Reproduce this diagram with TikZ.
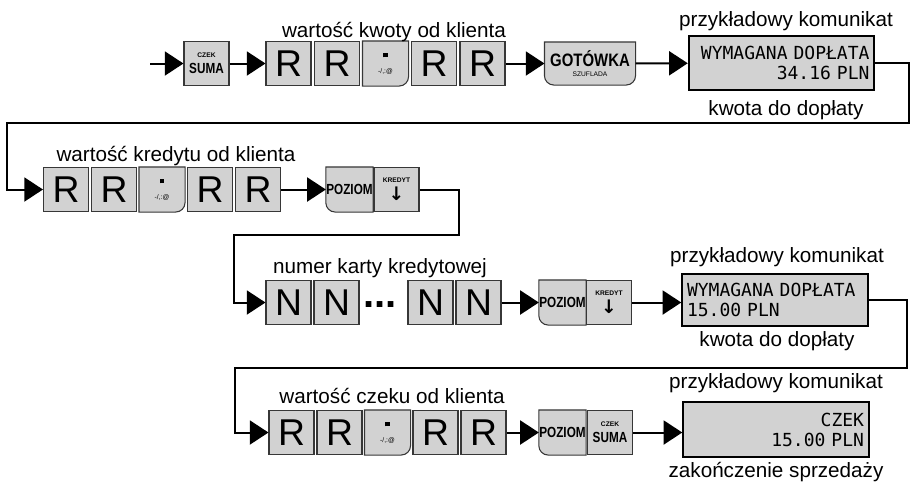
\documentclass[tikz,border=0pt]{standalone}
\usepackage{fontspec}
\setmainfont{Liberation Sans}
\newfontfamily\lcdfont[WordSpace={1,0,0}]{DejaVu Sans Mono}
\newfontfamily\symfont{DejaVu Sans}
\usepackage{graphicx}
\usetikzlibrary{arrows.meta,backgrounds}
\definecolor{keygray}{RGB}{210,210,210}
\definecolor{keyedge}{RGB}{55,55,55}
\newcommand\tinylab[1]{{\fontsize{5}{6}\selectfont#1}}
\newcommand\keylab[1]{\scalebox{.8}[1]{\fontsize{11}{12}\selectfont\bfseries#1}}
\newcommand\dotkey{\rule{3.5pt}{3.5pt}\\[5pt]\tinylab{-/,:@}}
\tikzset{
  btn/.style={draw=keyedge,fill=keygray,line width=.8pt,minimum width=33.75pt,minimum height=33pt,inner sep=0pt,font=\fontsize{28}{30}\selectfont},
  btnbare/.style={btn,draw=none,fill=none},
  legend/.style={btn,align=center,font=\fontsize{6}{7}\selectfont},
  rim/.style={draw=keyedge,fill=keygray,line width=.8pt},
  lcd/.style={draw,fill=keygray,line width=1.6pt,text width=132pt,inner xsep=3.5pt,minimum height=40.5pt,font=\lcdfont\fontsize{13.5}{15}\selectfont},
  note/.style={anchor=base,inner sep=0pt,font=\fontsize{15.5}{18}\selectfont},
  wire/.style={line width=1.5pt},
  feed/.style={wire,-{Triangle[length=14pt,width=18pt]}}
}
\begin{document}
\begin{tikzpicture}[x=.75pt,y=-.75pt]
\useasboundingbox(0,0)rectangle(912,483);
% wiersz 1: gotowka
\coordinate(in)at(150,63.5);
\node[legend](s)at(206.5,63.5){\tinylab{\bfseries CZEK}\\[3pt]\keylab{SUMA}};
\node[btn](a1)at(288.5,63.5){R};\node[btn](a2)at(337,63.5){R};
\node[btnbare,align=center,font=\fontsize{6}{7}\selectfont](a3)at(385.5,63.5){\dotkey};
\node[btn](a4)at(434,63.5){R};\node[btn](a5)at(482.5,63.5){R};
\node[btnbare,align=center,minimum width=67.5pt,minimum height=31.5pt,font=\fontsize{6}{7}\selectfont](g)at(590,63.5){\scalebox{.83}[1]{\fontsize{13.5}{15}\selectfont\bfseries GOTÓWKA}\\\tinylab{SZUFLADA}};
\node[lcd,align=right](w1)at(781.5,63){WYMAGANA DOPŁATA\\34.16 PLN};
\node[note](l1)at(394,37){wartość kwoty od klienta};
\node[note](l2)at(786,26){przykładowy komunikat};
\node[note](l3)at(786,115){kwota do dopłaty};
% wiersz 2: kredyt
\node[btn](b1)at(66,189.5){R};\node[btn](b2)at(114,189.5){R};
\node[btnbare,align=center,font=\fontsize{6}{7}\selectfont](b3)at(162,189.5){\dotkey};
\node[btn](b4)at(210,189.5){R};\node[btn](b5)at(258,189.5){R};
\node[btnbare](p1)at(349.5,189.5){\keylab{POZIOM}};
\node[legend](k1)at(396.5,189.5){\tinylab{\bfseries KREDYT}\\[2pt]{\symfont\bfseries\fontsize{14}{14}\selectfont ↓}};
\node[note](l4)at(176,161){wartość kredytu od klienta};
% wiersz 3: karta
\node[btn](n1)at(288.5,302.5){N};\node[btn](n2)at(336.5,302.5){N};
\node[anchor=base,inner sep=0pt,font=\fontsize{30}{30}\selectfont\bfseries](el)at(380,307){...};
\node[btn](n3)at(430.5,302.5){N};\node[btn](n4)at(478.5,302.5){N};
\node[btnbare](p2)at(562.5,302.5){\keylab{POZIOM}};
\node[legend](k2)at(609,302.5){\tinylab{\bfseries KREDYT}\\[2pt]{\symfont\bfseries\fontsize{14}{14}\selectfont ↓}};
\node[lcd,align=left,minimum height=39pt](w2)at(775,300){WYMAGANA DOPŁATA\\15.00 PLN};
\node[note](l5)at(380,273){numer karty kredytowej};
\node[note](l6)at(777,262){przykładowy komunikat};
\node[note](l7)at(777,346){kwota do dopłaty};
% wiersz 4: czek
\node[btn](c1)at(291.5,432.5){R};\node[btn](c2)at(339.5,432.5){R};
\node[btnbare,align=center,font=\fontsize{6}{7}\selectfont](c3)at(387.5,432.5){\dotkey};
\node[btn](c4)at(435.5,432.5){R};\node[btn](c5)at(483.5,432.5){R};
\node[btnbare](p3)at(562.5,432.5){\keylab{POZIOM}};
\node[legend](s2)at(610,432.5){\tinylab{\bfseries CZEK}\\[3pt]\keylab{SUMA}};
\node[lcd,align=right,minimum height=41pt](w3)at(776,429.5){CZEK\\15.00 PLN};
\node[note](l8)at(392,403){wartość czeku od klienta};
\node[note](l9)at(776,388){przykładowy komunikat};
\node[note](l10)at(776,477){zakończenie sprzedaży};
% klawisze z zaokraglonym rogiem
\begin{scope}[on background layer]
\draw[rim](a3.north west)--(a3.north east)--([yshift=7pt]a3.south east)arc(0:-90:7pt)--(a3.south west)--cycle;
\draw[rim](b3.north west)--(b3.north east)--([yshift=7pt]b3.south east)arc(0:-90:7pt)--(b3.south west)--cycle;
\draw[rim](c3.north west)--(c3.north east)--([yshift=7pt]c3.south east)arc(0:-90:7pt)--(c3.south west)--cycle;
\draw[rim]([yshift=7pt]g.south west)--(g.north west)--(g.north east)--([yshift=7pt]g.south east)arc(0:-90:7pt)--([xshift=7pt]g.south west)arc(270:180:7pt)--cycle;
\draw[rim](p1.north west)--(p1.north east)--(p1.south east)--([xshift=7pt]p1.south west)arc(270:180:7pt)--cycle;
\draw[rim](p2.north west)--(p2.north east)--(p2.south east)--([xshift=7pt]p2.south west)arc(270:180:7pt)--cycle;
\draw[rim](p3.north west)--(p3.north east)--(p3.south east)--([xshift=7pt]p3.south west)arc(270:180:7pt)--cycle;
\end{scope}
% polaczenia
\coordinate(t1)at(909,123);\coordinate(t2)at(7,123);
\coordinate(t3)at(459,235);\coordinate(t4)at(234,235);
\coordinate(t5)at(907,368);\coordinate(t6)at(235,368);
\draw[feed](in)--(s);\draw[feed](s)--(a1);\draw[feed](a5)--(g);\draw[feed](g)--(w1);
\draw[feed](w1.east)-|(t1)--(t2)|-(b1);
\draw[feed](b5)--(p1);
\draw[feed](k1)-|(t3)--(t4)|-(n1);
\draw[feed](n4)--(p2);\draw[feed](k2)--(k2-|w2.west);
\draw[feed](w2)-|(t5)--(t6)|-(c1);
\draw[feed](c5)--(p3);\draw[feed](s2)--(s2-|w3.west);
\end{tikzpicture}
\end{document}
